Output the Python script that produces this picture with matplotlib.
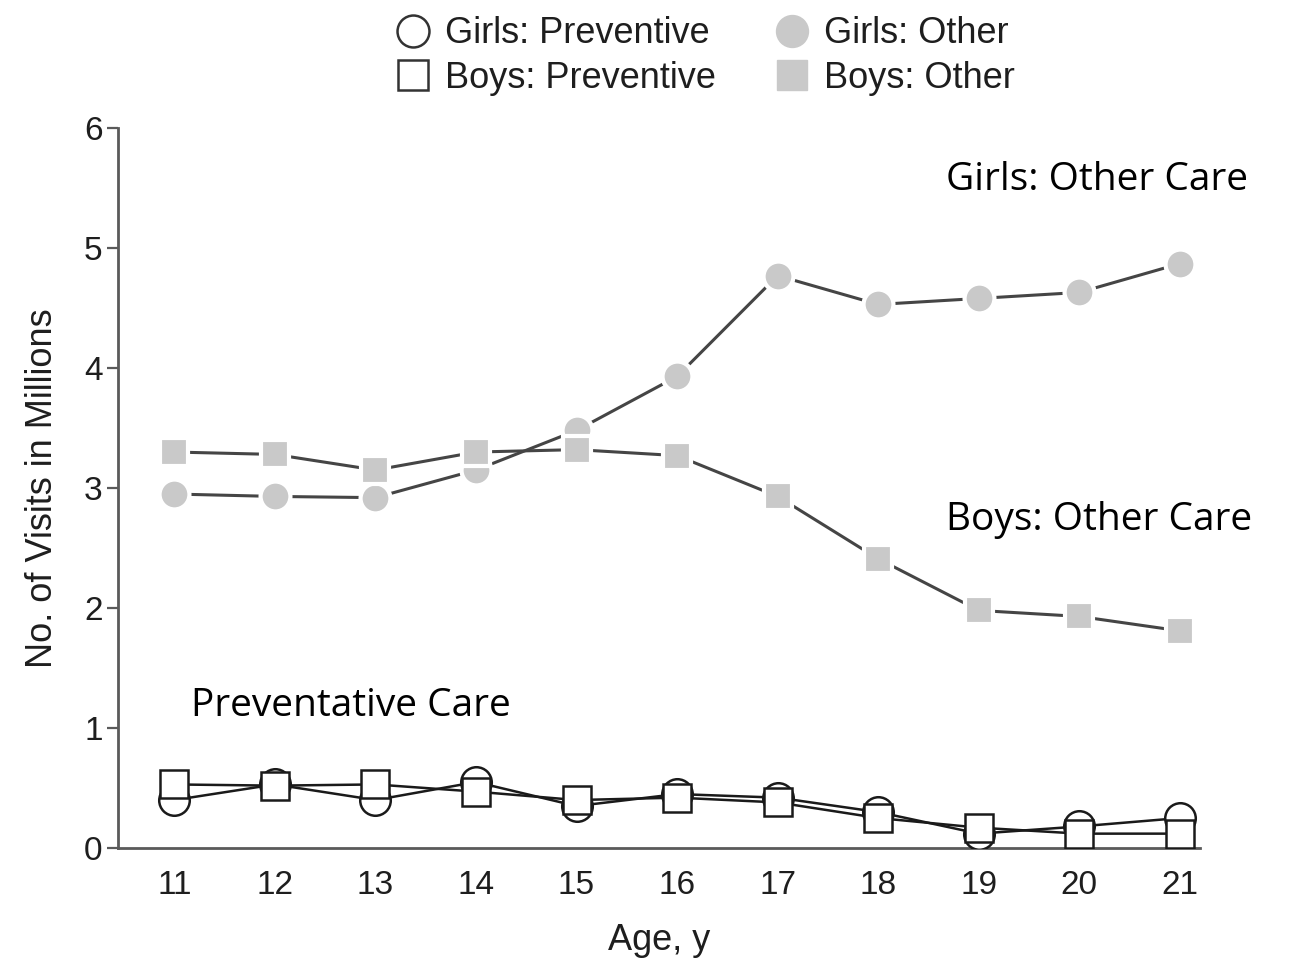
import matplotlib
matplotlib.use("Agg")
import matplotlib.pyplot as plt
from matplotlib.lines import Line2D

plt.rcParams["font.family"] = ["Liberation Sans", "DejaVu Sans"]

# Values (millions of visits)
ages = [11, 12, 13, 14, 15, 16, 17, 18, 19, 20, 21]
girls_preventive = [0.40, 0.53, 0.40, 0.55, 0.35, 0.45, 0.42, 0.30, 0.12, 0.18, 0.25]
boys_preventive = [0.53, 0.52, 0.53, 0.47, 0.40, 0.42, 0.38, 0.25, 0.17, 0.12, 0.12]
girls_other = [2.95, 2.93, 2.92, 3.15, 3.48, 3.93, 4.77, 4.53, 4.58, 4.63, 4.87]
boys_other = [3.30, 3.28, 3.15, 3.30, 3.32, 3.27, 2.93, 2.41, 1.98, 1.93, 1.81]

y_ticks = [0, 1, 2, 3, 4, 5, 6]

OTHER_FILL = "#c9c9c9"
LINE_DARK = "#454545"
TEXT = "#1e1e1e"
AXIS = "#5a5a5a"

fig = plt.figure(figsize=(12.98, 9.59), dpi=100)
ax = fig.add_axes([0.0909, 0.1157, 0.8336, 0.7508])

# "Other" care: light grey filled markers with a white halo so lines stop short
ax.plot(ages, girls_other, color=LINE_DARK, lw=2.2, marker="o", ms=21.5,
        mfc=OTHER_FILL, mec="white", mew=3, zorder=3)
ax.plot(ages, boys_other, color=LINE_DARK, lw=2.2, marker="s", ms=20,
        mfc=OTHER_FILL, mec="white", mew=3, zorder=3)

# Preventive care: open markers with black outline
ax.plot(ages, girls_preventive, color="#1a1a1a", lw=1.8, marker="o", ms=22,
        mfc="white", mec="#1a1a1a", mew=1.8, zorder=4)
ax.plot(ages, boys_preventive, color="#1a1a1a", lw=1.8, marker="s", ms=20,
        mfc="white", mec="#1a1a1a", mew=1.8, zorder=5)

ax.set_xlim(10.44, 21.2)
ax.set_ylim(0, 6)
ax.set_xticks(ages)
ax.set_yticks(y_ticks)
ax.tick_params(axis="x", length=0, pad=16, labelsize=24, colors=TEXT)
ax.tick_params(axis="y", length=8, width=1.6, pad=3, labelsize=24,
               colors=TEXT, color=AXIS)
for side in ("top", "right"):
    ax.spines[side].set_visible(False)
for side in ("left", "bottom"):
    ax.spines[side].set_linewidth(2)
    ax.spines[side].set_color(AXIS)

ax.set_xlabel("Age, y", fontsize=26, color=TEXT, labelpad=16)
ax.set_ylabel("No. of Visits in Millions", fontsize=26, color=TEXT, labelpad=17)

# Overlay annotations
ann_font = ["Open Sans", "DejaVu Sans"]
fig.text(946 / 1298, 1 - 190 / 959, "Girls: Other Care", family=ann_font,
         fontsize=28, va="baseline", ha="left", color="black")
fig.text(946 / 1298, 1 - 530 / 959, "Boys: Other Care", family=ann_font,
         fontsize=28, va="baseline", ha="left", color="black")
fig.text(191 / 1298, 1 - 716 / 959, "Preventative Care", family=ann_font,
         fontsize=28, va="baseline", ha="left", color="black")

handles = [
    Line2D([], [], ls="none", marker="o", ms=23, mfc="white", mec="#333333", mew=1.8),
    Line2D([], [], ls="none", marker="s", ms=22, mfc="white", mec="#333333", mew=1.8),
    Line2D([], [], ls="none", marker="o", ms=23, mfc=OTHER_FILL, mec=OTHER_FILL),
    Line2D([], [], ls="none", marker="s", ms=22, mfc=OTHER_FILL, mec=OTHER_FILL),
]
labels = ["Girls: Preventive", "Boys: Preventive", "Girls: Other", "Boys: Other"]
fig.legend(handles, labels, ncol=2, loc="upper center",
           bbox_to_anchor=(0.543, 0.998), frameon=False, fontsize=26,
           handlelength=1.0, handletextpad=0.4, columnspacing=1.6,
           labelspacing=0.27, labelcolor=TEXT, borderaxespad=0)

fig.savefig("out.png", dpi=100)
